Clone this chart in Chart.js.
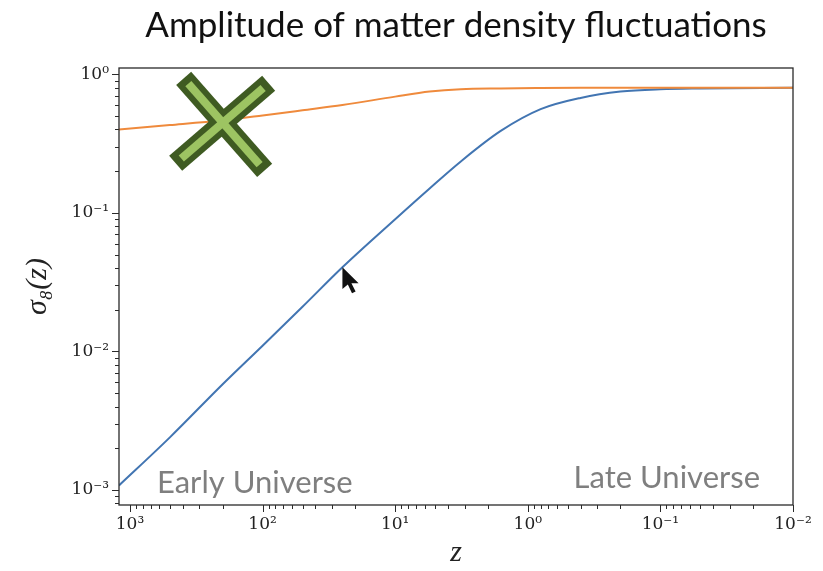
<!DOCTYPE html>
<html>
<head>
<meta charset="utf-8">
<script src="https://cdn.jsdelivr.net/npm/chart.js@4.4.0/dist/chart.umd.min.js"></script>
<style>
  body { margin: 0; background: #fff; }
  #wrap { width: 823px; height: 571px; }
</style>
</head>
<body>
<div id="wrap"><canvas id="sigma-chart"></canvas></div>
<script>
// redshift samples and sigma_8 values for the two curves
var redshifts = [1210, 500, 200, 100, 50, 25, 10, 5.5, 3.2, 1.6, 0.8, 0.4, 0.2, 0.1, 0.05, 0.01];
var sigmaBlue = [0.00108, 0.0024, 0.0058, 0.011, 0.021, 0.0405, 0.090, 0.150, 0.235, 0.39, 0.56, 0.675, 0.75, 0.78, 0.79, 0.80];
var sigmaOrange = [0.40, 0.43, 0.466, 0.505, 0.55, 0.60, 0.69, 0.75, 0.78, 0.79, 0.795, 0.798, 0.80, 0.80, 0.80, 0.80];

var xMajorTicks = [1000, 100, 10, 1, 0.1, 0.01];
var xMajorLabels = ['10³', '10²', '10¹', '10⁰', '10⁻¹', '10⁻²'];
var yMajorTicks = [1, 0.1, 0.01, 0.001];
var yMajorLabels = ['10⁰', '10⁻¹', '10⁻²', '10⁻³'];

// where the cross and the pointer sit (data coordinates)
var crossAt = { z: 200, s: 0.443 };
var pointerAt = { z: 25, s: 0.0405 };

function toPoints(ys) {
	var pts = [];
	for (var i = 0; i < redshifts.length; i++) {
		pts.push({ x: redshifts[i], y: ys[i] });
	}
	return pts;
}

function majorLabel(value, ticks, labels) {
	for (var i = 0; i < ticks.length; i++) {
		if (Math.abs(value - ticks[i]) / ticks[i] < 1e-6) return labels[i];
	}
	return '';
}

// matplotlib-like log ticks: long at decades, short in between
function drawLogTicks(ctx, scale, horizontal, area) {
	var lo = Math.min(scale.min, scale.max);
	var hi = Math.max(scale.min, scale.max);
	var e0 = Math.floor(Math.log10(lo));
	var e1 = Math.ceil(Math.log10(hi));
	ctx.beginPath();
	for (var e = e0; e <= e1; e++) {
		for (var k = 1; k < 10; k++) {
			var v = k * Math.pow(10, e);
			if (v < lo * 0.9999 || v > hi * 1.0001) continue;
			var len = k === 1 ? 7 : 4;
			var p = Math.round(scale.getPixelForValue(v)) + 0.5;
			if (horizontal) {
				ctx.moveTo(p, area.bottom);
				ctx.lineTo(p, area.bottom + len);
			} else {
				ctx.moveTo(area.left - len, p);
				ctx.lineTo(area.left, p);
			}
		}
	}
	ctx.stroke();
}

var decorations = {
	id: 'decorations',
	afterDatasetsDraw: function(chart) {
		var ctx = chart.ctx;
		var area = chart.chartArea;
		var xs = chart.scales.x;
		var ys = chart.scales.y;
		ctx.save();

		// frame and ticks
		ctx.strokeStyle = '#2a2a2a';
		ctx.lineWidth = 1.3;
		ctx.strokeRect(area.left, area.top, area.right - area.left, area.bottom - area.top);
		ctx.lineWidth = 1;
		drawLogTicks(ctx, xs, true, area);
		drawLogTicks(ctx, ys, false, area);

		// region labels
		ctx.fillStyle = '#7f7f7f';
		ctx.font = '31px Lato, "Open Sans", sans-serif';
		ctx.textBaseline = 'middle';
		ctx.textAlign = 'left';
		ctx.fillText('Early Universe', area.left + 38, area.bottom - 22);
		ctx.textAlign = 'right';
		ctx.fillText('Late Universe', area.right - 33, area.bottom - 27);

		// green cross
		var cx = xs.getPixelForValue(crossAt.z);
		var cy = ys.getPixelForValue(crossAt.s);
		var arms = [[-39, -45, 42, 47], [46, -40, -47, 40]];
		ctx.lineCap = 'butt';
		ctx.strokeStyle = '#3f5b22';
		ctx.lineWidth = 20;
		arms.forEach(function(a) {
			ctx.beginPath();
			ctx.moveTo(cx + a[0], cy + a[1]);
			ctx.lineTo(cx + a[2], cy + a[3]);
			ctx.stroke();
		});
		ctx.strokeStyle = '#9dc462';
		ctx.lineWidth = 8;
		arms.forEach(function(a) {
			ctx.beginPath();
			ctx.moveTo(cx + a[0] * 0.88, cy + a[1] * 0.88);
			ctx.lineTo(cx + a[2] * 0.88, cy + a[3] * 0.88);
			ctx.stroke();
		});

		// mouse pointer
		var px = xs.getPixelForValue(pointerAt.z);
		var py = ys.getPixelForValue(pointerAt.s);
		var arrow = [[0, 0], [0, 19], [4.5, 15], [8, 22.5], [11, 21], [7.5, 13.8], [13.5, 13.8]];
		ctx.beginPath();
		arrow.forEach(function(p, i) {
			var sx = px + p[0] * 1.2, sy = py + p[1] * 1.15;
			if (i === 0) ctx.moveTo(sx, sy);
			else ctx.lineTo(sx, sy);
		});
		ctx.closePath();
		ctx.fillStyle = '#111';
		ctx.fill();

		ctx.restore();
	}
};

var data1 = {
	datasets: [
		{
			label: 'orange',
			data: toPoints(sigmaOrange),
			borderColor: '#ef8a3c',
			borderWidth: 2,
			pointRadius: 0,
			cubicInterpolationMode: 'monotone'
		},
		{
			label: 'blue',
			data: toPoints(sigmaBlue),
			borderColor: '#4275b2',
			borderWidth: 2,
			pointRadius: 0,
			cubicInterpolationMode: 'monotone'
		}
	]
};

var serif = '"DejaVu Serif", "Liberation Serif", serif';

var options = {
	responsive: true,
	maintainAspectRatio: false,
	animation: false,
	layout: { padding: { left: 0, right: 30, top: 0, bottom: 0 } },
	plugins: {
		legend: { display: false },
		tooltip: { enabled: false },
		title: {
			display: true,
			fullSize: false,
			text: 'Amplitude of matter density fluctuations',
			color: '#111',
			font: { family: 'Lato, "Open Sans", sans-serif', size: 35, weight: 'normal', lineHeight: 1.2 },
			padding: { top: 5, bottom: 21 }
		}
	},
	scales: {
		x: {
			type: 'logarithmic',
			reverse: true,
			min: 0.01,
			max: 1210,
			afterFit: function(scale) { scale.height = 66; },
			grid: { display: false, drawTicks: false },
			border: { display: false },
			ticks: {
				autoSkip: false,
				maxRotation: 0,
				padding: 9,
				color: '#222',
				font: { family: serif, size: 17 },
				callback: function(value) { return majorLabel(value, xMajorTicks, xMajorLabels); }
			},
			title: {
				display: true,
				text: 'z',
				color: '#222',
				font: { family: '"Liberation Serif", serif', size: 30, style: 'italic', lineHeight: 1.2 },
				padding: { top: 0, bottom: 0 }
			}
		},
		y: {
			type: 'logarithmic',
			min: 0.00078,
			max: 1.11,
			afterFit: function(scale) { scale.width = 119; },
			grid: { display: false, drawTicks: false },
			border: { display: false },
			ticks: {
				autoSkip: false,
				padding: 10,
				color: '#222',
				font: { family: serif, size: 17 },
				callback: function(value) { return majorLabel(value, yMajorTicks, yMajorLabels); }
			},
			title: {
				display: true,
				text: 'σ₈(z)',
				color: '#222',
				font: { family: '"Liberation Serif", serif', size: 30, style: 'italic', lineHeight: 1.2 },
				padding: { top: 20, bottom: 0 }
			}
		}
	}
};

var chart1 = new Chart(document.getElementById('sigma-chart'), {
	type: 'line',
	data: data1,
	options: options,
	plugins: [decorations]
});
</script>
</body>
</html>
